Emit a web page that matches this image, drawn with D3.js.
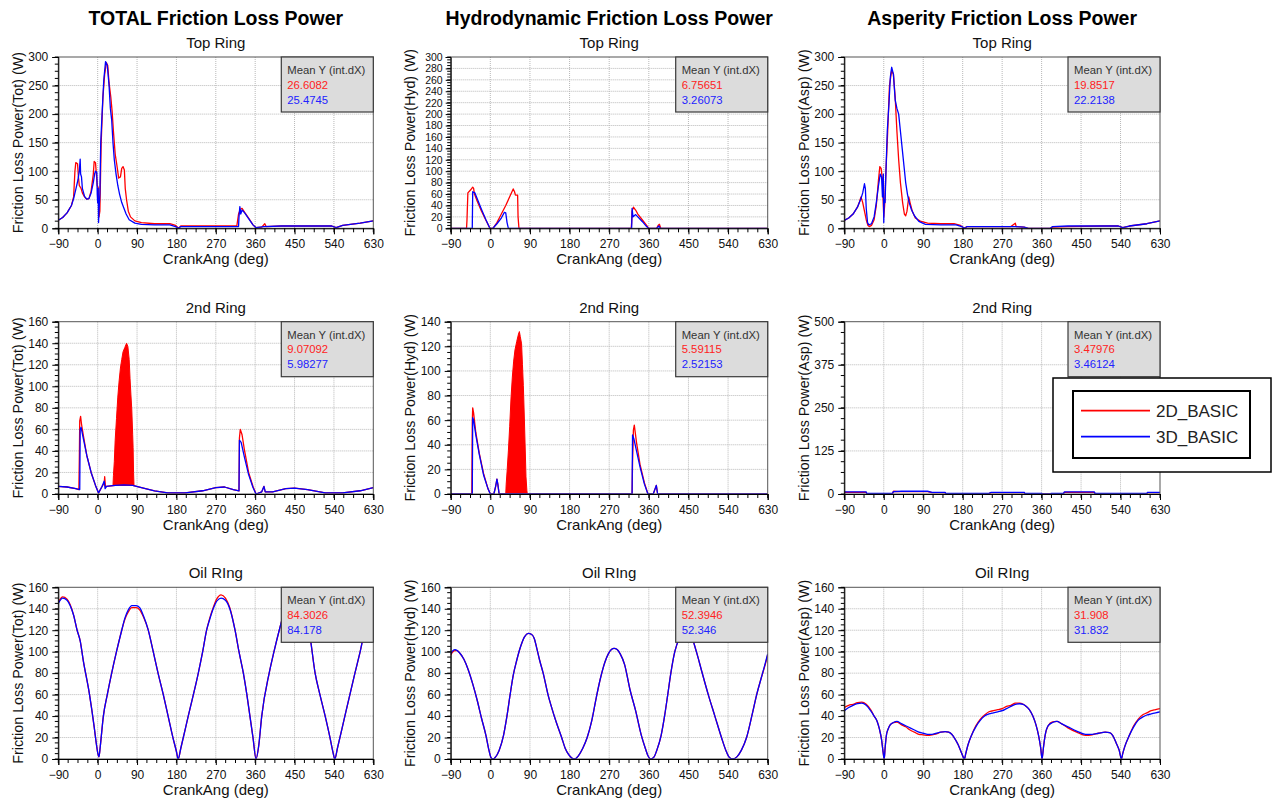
<!DOCTYPE html>
<html><head><meta charset="utf-8">
<script src="https://cdn.jsdelivr.net/npm/d3@7"></script>
<style>
html,body{margin:0;padding:0;background:#fff;}
svg{display:block;font-family:"Liberation Sans",Arial,Helvetica,sans-serif;}
</style></head>
<body>
<svg id="chart" width="1277" height="801"></svg>
<script>
// ---------------- DATA ----------------
const xTickValues = [-90, 0, 90, 180, 270, 360, 450, 540, 630];
const columnTitles = ["TOTAL Friction Loss Power", "Hydrodynamic Friction Loss Power", "Asperity Friction Loss Power"];
const rowTitles = ["Top Ring", "2nd Ring", "Oil RIng"];
const yAxisLabels = ["Friction Loss Power(Tot) (W)", "Friction Loss Power(Hyd) (W)", "Friction Loss Power(Asp) (W)"];
const xAxisLabel = "CrankAng (deg)";
const yMaxValues = [[300, 300, 300], [160, 140, 500], [160, 160, 160]];
const yStepValues = [[50, 20, 50], [20, 20, 125], [20, 20, 20]];
const statsHeader = "Mean Y (int.dX)";
const meanRed = [["26.6082", "6.75651", "19.8517"], ["9.07092", "5.59115", "3.47976"], ["84.3026", "52.3946", "31.908"]];
const meanBlue = [["25.4745", "3.26073", "22.2138"], ["5.98277", "2.52153", "3.46124"], ["84.178", "52.346", "31.832"]];
const seriesNames = ["2D_BASIC", "3D_BASIC"];

// Top ring – total
const totTopRed = [[-90,14],[-80,19],[-70,27],[-60,40],[-55,55],[-52,100],[-50,115],[-46,113],[-44,90],[-42,75],[-38,70],[-35,62],[-30,55],[-25,51],[-20,52],[-15,65],[-10,95],[-8,117],[-5,115],[-3,95],[-1,75],[1,72],[3,20],[5,30],[8,150],[12,230],[16,270],[20,290],[23,285],[26,255],[30,230],[33,205],[36,170],[40,130],[44,110],[48,88],[52,90],[55,105],[58,108],[61,102],[63,70],[66,50],[70,30],[75,20],[85,13],[100,10],[130,8],[165,8],[178,5],[185,0],[190,4],[250,4],[300,4],[318,4],[322,25],[326,33],[330,35],[336,28],[345,18],[355,6],[362,1],[375,2],[382,8],[385,3],[420,4],[500,4],[535,4],[545,1],[560,5],[600,9],[630,13]];
const totTopBlue = [[-90,14],[-80,19],[-70,27],[-60,40],[-55,52],[-50,68],[-45,85],[-42,100],[-40,121],[-39,95],[-37,90],[-35,70],[-30,56],[-25,51],[-20,52],[-15,62],[-10,80],[-7,95],[-5,100],[-2,98],[-1,60],[0,45],[1,70],[2,10],[3,30],[5,60],[7,150],[10,200],[14,260],[18,292],[22,285],[26,250],[29,210],[32,190],[35,150],[38,120],[42,95],[46,75],[50,60],[55,45],[60,35],[65,25],[72,15],[85,9],[100,7],[130,6],[165,6],[178,3],[185,0],[190,3],[300,3],[322,3],[323,20],[325,38],[327,25],[330,32],[336,27],[345,17],[355,6],[362,1],[380,3],[420,4],[500,4],[535,4],[545,1],[560,5],[600,9],[630,13]];
// Top ring – hydrodynamic
const hydTopRed = [[-90,0],[-54,0],[-53,15],[-51,62],[-45,67],[-40,72],[-38,70],[-36,60],[-30,48],[-20,30],[-10,14],[-1,0],[6,0],[15,10],[25,25],[35,40],[45,57],[52,69],[55,64],[57,58],[62,58],[63,20],[65,0],[320,0],[321,10],[322,30],[325,37],[330,32],[335,25],[345,15],[355,5],[360,0],[378,0],[381,5],[384,7],[387,0],[630,0]];
const hydTopBlue = [[-90,0],[-41,0],[-40,64],[-35,62],[-30,52],[-20,33],[-10,15],[-1,0],[6,0],[15,8],[25,18],[32,28],[35,27],[38,10],[41,0],[321,0],[322,35],[324,20],[327,22],[330,24],[335,20],[345,12],[355,3],[359,0],[378,0],[383,4],[386,0],[630,0]];
// Top ring – asperity
const aspTopRed = [[-90,14],[-80,18],[-70,25],[-60,37],[-55,47],[-52,55],[-48,45],[-44,30],[-40,15],[-36,5],[-33,3],[-28,5],[-22,15],[-17,40],[-12,85],[-9,108],[-6,105],[-3,85],[-1,40],[0,20],[2,40],[5,100],[9,170],[13,250],[18,276],[22,270],[26,230],[30,170],[34,120],[38,80],[43,45],[47,25],[50,22],[53,30],[57,55],[60,45],[65,30],[72,18],[85,12],[100,9],[130,8],[160,8],[175,5],[183,0],[190,3],[290,3],[300,9],[302,3],[320,2],[330,0],[380,0],[385,2],[420,3],[500,4],[535,4],[545,1],[560,4],[600,8],[630,13]];
const aspTopBlue = [[-90,14],[-80,18],[-70,25],[-60,37],[-52,52],[-48,62],[-44,78],[-42,70],[-40,35],[-37,10],[-34,6],[-28,8],[-22,20],[-17,45],[-12,75],[-8,95],[-5,90],[-3,55],[-1,95],[0,10],[1,50],[3,45],[5,100],[8,170],[12,220],[15,265],[18,282],[22,270],[26,225],[30,210],[34,200],[38,170],[42,140],[46,110],[50,80],[54,60],[58,45],[63,33],[70,22],[80,12],[95,7],[130,6],[165,6],[178,3],[185,0],[190,3],[300,3],[320,2],[330,0],[380,0],[385,3],[420,4],[500,4],[535,4],[545,1],[560,4],[600,8],[630,13]];
// 2nd ring – total
const tot2ndRed = [[-90,7],[-70,6.5],[-50,5],[-43,4],[-42,30],[-41,68],[-39,72],[-37,65],[-33,55],[-25,36],[-15,20],[-5,8],[2,1],[10,7],[15,10],[16,16],[18,6],[20,7],[40,8],[60,8.5],[80,8],[100,6],[130,3],[160,1],[200,1],[240,3],[270,6],[290,6.5],[310,4],[323,3],[324,52],[326,60],[330,55],[335,42],[345,20],[355,7],[362,0],[375,2],[380,7],[383,2],[400,2],[430,5],[450,5.5],[480,4],[520,1],[560,1],[600,3],[630,6]];
const tot2ndBlue = [[-90,7],[-70,6.5],[-50,5],[-41,4],[-40,60],[-38,62],[-33,52],[-25,36],[-15,20],[-5,8],[2,1],[10,7],[15,12],[17,5],[20,7],[40,8],[60,8.5],[80,8],[100,6],[130,3],[160,1],[200,1],[240,3],[270,6],[290,6.5],[310,4],[323,3],[324,50],[328,48],[335,35],[345,18],[355,6],[362,0],[375,2],[380,7],[383,2],[400,2],[430,5],[450,5.5],[480,4],[520,1],[560,1],[600,3],[630,6]];
const tot2ndRedBand = [[35,8],[36,17],[38,30],[40,50],[43,70],[46,90],[49,105],[52,117],[55,125],[58,132],[62,136],[66,140],[69,137],[72,125],[74,107],[76,92],[78,78],[80,55],[81,43],[82,20],[83,8]];
// 2nd ring – hydrodynamic
const hyd2ndRed = [[-90,0],[-42,0],[-41,58],[-40,70],[-38,66],[-33,50],[-25,33],[-15,16],[-5,4],[0,0],[8,0],[12,6],[15,12],[17,8],[20,0],[322,0],[323,25],[325,52],[327,56],[332,42],[340,24],[350,9],[358,0],[370,0],[375,5],[377,7],[380,0],[630,0]];
const hyd2ndBlue = [[-90,0],[-41,0],[-40,62],[-38,60],[-33,48],[-25,32],[-15,15],[-5,4],[0,0],[8,0],[12,6],[15,12],[17,8],[20,0],[322,0],[323,48],[326,45],[332,35],[340,22],[350,8],[358,0],[370,0],[375,5],[377,7],[380,0],[630,0]];
const hyd2ndRedBand = [[35,0],[36,8],[38,18],[41,35],[44,55],[47,78],[50,95],[53,108],[56,117],[60,124],[64,130],[66,132],[68,128],[71,122],[73,105],[75,88],[77,65],[79,40],[81,14],[83,3],[84,0]];
// 2nd ring – asperity
const asp2ndRed = [[-90,5],[-40,5],[-39,1],[20,1],[22,8],[35,7],[100,7],[110,4],[140,4],[141,1],[240,1],[245,4],[320,4],[322,1],[360,1],[362,0],[380,0],[382,1],[410,1],[412,5],[480,5],[482,1],[600,1],[602,4],[630,4]];
const asp2ndBlue = [[-90,6],[-40,6],[-39,2],[20,2],[22,7],[40,8],[100,8],[110,5],[140,5],[141,2],[240,2],[245,5],[320,5],[322,2],[360,2],[362,0],[380,0],[382,2],[410,2],[412,6],[480,6],[482,2],[600,2],[602,5],[630,5]];
// Oil ring – total
const totOilRed = [[-90,146],[-80,151],[-70,149],[-63,144],[-55,134],[-47,120],[-40,110],[-33,92],[-19,61],[-8,30],[-3,14],[0,6],[3,2],[6,12],[13,40],[22,60],[32,80],[43,100],[55,120],[62,130],[70,137],[78,141],[88,141],[96,139],[105,132],[115,121],[127,100],[138,80],[150,60],[161,40],[172,20],[180,7],[184,0],[190,10],[207,40],[230,80],[240,100],[249,120],[256,131],[264,141],[272,149],[282,153],[292,150],[302,141],[314,120],[323,100],[333,80],[341,60],[348,40],[355,20],[362,0],[368,12],[375,40],[392,80],[403,100],[415,120],[425,135],[440,148],[455,150],[470,140],[485,115],[497,80],[508,60],[520,40],[531,20],[538,6],[542,0],[548,10],[565,40],[588,80],[600,100],[611,120],[620,128],[630,136]];
const totOilBlue = [[-90,145],[-80,150],[-70,148],[-63,143],[-55,134],[-47,120],[-40,110],[-33,92],[-19,61],[-8,30],[-3,14],[0,6],[3,2],[6,12],[13,40],[22,60],[32,80],[43,100],[55,120],[62,131],[70,139],[78,143],[88,143],[96,141],[105,133],[115,121],[127,100],[138,80],[150,60],[161,40],[172,20],[180,7],[184,0],[190,10],[207,40],[230,80],[240,100],[249,120],[256,130],[264,140],[272,147],[282,150],[292,148],[302,140],[314,120],[323,100],[333,80],[341,60],[348,40],[355,20],[362,0],[368,12],[375,40],[392,80],[403,100],[415,120],[425,135],[440,148],[455,150],[470,140],[485,115],[497,80],[508,60],[520,40],[531,20],[538,6],[542,0],[548,10],[565,40],[588,80],[600,100],[611,120],[620,128],[630,136]];
// Oil ring – hydrodynamic
const hydOilRed = [[-90,97],[-85,100],[-80,101],[-75,101],[-70,99],[-60,93],[-50,83],[-40,70],[-30,55],[-20,38],[-10,22],[-3,8],[2,1],[6,0],[10,1],[20,8],[30,22],[37,38],[45,60],[52,78],[60,92],[69,105],[78,114],[86,117],[94,116],[100,112],[105,104],[112,92],[120,80],[131,60],[140,47],[150,34],[162,20],[170,10],[178,4],[185,1],[192,0],[200,3],[210,10],[220,20],[230,35],[241,58],[250,75],[260,90],[268,98],[275,102],[281,103],[288,102],[295,98],[305,88],[317,65],[330,45],[343,22],[352,10],[358,3],[364,0],[372,2],[378,8],[388,22],[395,38],[403,60],[410,80],[419,100],[430,113],[444,119],[455,116],[468,100],[480,82],[495,60],[510,40],[525,20],[535,8],[542,2],[550,0],[560,2],[570,8],[582,20],[595,42],[605,60],[615,75],[625,89],[630,97]];
const hydOilBlue = [[-90,98],[-85,101],[-80,102],[-75,101],[-70,99],[-60,93],[-50,83],[-40,70],[-30,55],[-20,38],[-10,22],[-3,8],[2,1],[6,0],[10,1],[20,8],[30,22],[37,38],[45,60],[52,78],[60,92],[69,105],[78,114],[86,117],[94,116],[100,112],[105,104],[112,92],[120,80],[131,60],[140,47],[150,34],[162,20],[170,10],[178,4],[185,1],[192,0],[200,3],[210,10],[220,20],[230,35],[241,58],[250,75],[260,90],[268,98],[275,102],[281,103],[288,102],[295,98],[305,88],[317,65],[330,45],[343,22],[352,10],[358,3],[364,0],[372,2],[378,8],[388,22],[395,38],[403,60],[410,80],[419,100],[430,113],[444,119],[455,116],[468,100],[480,82],[495,60],[510,40],[525,20],[535,8],[542,2],[550,0],[560,2],[570,8],[582,20],[595,42],[605,60],[615,75],[625,90],[630,98]];
// Oil ring – asperity
const aspOilRed = [[-90,48],[-80,50],[-70,51],[-60,52.5],[-50,53],[-40,51],[-30,46],[-22,40],[-15,35],[-10,28],[-5,18],[-2,8],[0,2],[1,0],[3,10],[6,22],[10,28],[15,32],[22,34],[30,34.5],[40,32],[50,30],[60,27],[70,25],[80,23],[90,22.5],[100,22],[110,22.5],[120,23.5],[130,25],[140,25.5],[148,25],[155,23],[162,19],[170,13],[176,7],[181,2],[184,0],[187,5],[192,13],[200,22],[210,31],[220,37],[230,41],[240,44],[250,45],[260,46],[270,47],[280,49],[290,50],[300,52],[310,52],[318,51],[325,49],[332,46],[340,40],[347,32],[353,22],[358,10],[361,0],[364,10],[368,22],[375,31],[385,34.5],[395,35],[405,33],[420,29],[440,25],[460,22],[475,22.5],[490,24],[505,25],[515,24.5],[522,22],[530,15],[537,8],[542,0],[545,5],[550,12],[560,22],[570,31],[580,37],[590,41],[600,43],[610,45],[620,46],[630,47]];
const aspOilBlue = [[-90,45],[-80,48],[-70,50],[-60,51.5],[-50,52],[-40,50],[-30,45],[-22,40],[-15,35],[-10,28],[-5,18],[-2,8],[0,2],[1,0],[3,10],[6,22],[10,28],[15,32],[22,34],[30,35],[40,33],[50,31],[60,29],[70,27],[80,25],[90,24],[100,23],[110,23],[120,24],[130,25],[140,25.5],[148,25],[155,23],[162,19],[170,13],[176,7],[181,2],[184,0],[187,5],[192,13],[200,22],[210,30],[220,36],[230,40],[240,42],[250,43],[260,44],[270,45],[280,47],[290,49],[300,51],[310,51.5],[318,51],[325,49],[332,46],[340,40],[347,32],[353,22],[358,10],[361,0],[364,10],[368,22],[375,31],[385,34],[395,35],[405,33],[420,30],[440,26],[460,23],[475,23],[490,24],[505,25],[515,24.5],[522,22],[530,15],[537,8],[542,0],[545,5],[550,12],[560,22],[570,30],[580,36],[590,39],[600,41],[610,42],[620,43],[630,44]];

const panelSeries = [
  [{red: totTopRed, blue: totTopBlue}, {red: hydTopRed, blue: hydTopBlue}, {red: aspTopRed, blue: aspTopBlue}],
  [{red: tot2ndRed, blue: tot2ndBlue, band: tot2ndRedBand, bandBase: 8}, {red: hyd2ndRed, blue: hyd2ndBlue, band: hyd2ndRedBand, bandBase: 0}, {red: asp2ndRed, blue: asp2ndBlue}],
  [{red: totOilRed, blue: totOilBlue, smooth: true}, {red: hydOilRed, blue: hydOilBlue, smooth: true}, {red: aspOilRed, blue: aspOilBlue, smooth: true}]
];

// ---------------- LAYOUT ----------------
const colX = [[58.3, 373.3], [450.7, 767.7], [844.3, 1160]];
const rowY = [[57, 228.3], [321.7, 494], [587.3, 759]];
const RED = "#ff0000", BLUE = "#0000ff";

const svg = d3.select("#chart");
const defs = svg.append("defs");

for (let r = 0; r < 3; r++) {
  for (let c = 0; c < 3; c++) {
    const [x0, x1] = colX[c];
    const [y0, y1] = rowY[r];
    const xs = d3.scaleLinear().domain([-90, 630]).range([x0, x1]);
    const ys = d3.scaleLinear().domain([0, yMaxValues[r][c]]).range([y1, y0]);
    const step = yStepValues[r][c];
    const yMajor = d3.range(0, yMaxValues[r][c] + 0.001, step);
    const yMinor = d3.range(0, yMaxValues[r][c] + 0.001, step / 4);
    const xMinor = d3.range(-90, 630.001, 22.5);
    const dense = yMajor.length > 10;
    const g = svg.append("g");
    const cx = (x0 + x1) / 2;

    // titles
    if (r === 0) {
      g.append("text").attr("x", cx).attr("y", 25).attr("text-anchor", "middle")
        .attr("font-size", 19.5).attr("font-weight", "bold").attr("fill", "#000").text(columnTitles[c]);
    }
    g.append("text").attr("x", cx).attr("y", y0 - 9).attr("text-anchor", "middle")
      .attr("font-size", 15).attr("fill", "#111").text(rowTitles[r]);

    // plot background
    g.append("rect").attr("x", x0).attr("y", y0).attr("width", x1 - x0).attr("height", y1 - y0).attr("fill", "#fff");

    // grid
    g.append("g").selectAll("line").data(xTickValues.slice(1, -1)).join("line")
      .attr("x1", d => xs(d)).attr("x2", d => xs(d)).attr("y1", y0).attr("y2", y1)
      .attr("stroke", "#b8b8b8").attr("stroke-dasharray", "1,1").attr("stroke-width", 1);
    g.append("g").selectAll("line").data(yMajor.slice(1, -1)).join("line")
      .attr("x1", x0).attr("x2", x1).attr("y1", d => ys(d)).attr("y2", d => ys(d))
      .attr("stroke", "#b8b8b8").attr("stroke-dasharray", "1,1").attr("stroke-width", 1);

    // clip
    const clipId = `clip-${r}-${c}`;
    defs.append("clipPath").attr("id", clipId).append("rect")
      .attr("x", x0).attr("y", y0 - 1).attr("width", x1 - x0).attr("height", y1 - y0 + 2);
    const plot = g.append("g").attr("clip-path", `url(#${clipId})`);

    const s = panelSeries[r][c];
    const line = d3.line().x(d => xs(d[0])).y(d => ys(d[1]))
      .curve(s.smooth ? d3.curveMonotoneX : d3.curveLinear);
    if (s.band) {
      const area = d3.area().x(d => xs(d[0])).y0(ys(s.bandBase)).y1(d => ys(d[1]));
      plot.append("path").datum(s.band).attr("d", area).attr("fill", RED).attr("stroke", RED).attr("stroke-width", 1);
    }
    plot.append("path").datum(s.red).attr("d", line).attr("fill", "none").attr("stroke", RED).attr("stroke-width", 1.3).attr("stroke-linejoin", "round");
    plot.append("path").datum(s.blue).attr("d", line).attr("fill", "none").attr("stroke", BLUE).attr("stroke-width", 1.3).attr("stroke-linejoin", "round");

    // frame
    g.append("rect").attr("x", x0).attr("y", y0).attr("width", x1 - x0).attr("height", y1 - y0)
      .attr("fill", "none").attr("stroke", "#555").attr("stroke-width", 1);

    // axes
    const xAxis = d3.axisBottom(xs).tickValues(xTickValues).tickSize(6).tickPadding(5);
    const xg = g.append("g").attr("transform", `translate(0,${y1})`).call(xAxis);
    xg.append("g").selectAll("line").data(xMinor).join("line")
      .attr("x1", d => xs(d)).attr("x2", d => xs(d)).attr("y1", 0).attr("y2", 4).attr("stroke", "#000");
    const yAxis = d3.axisLeft(ys).tickValues(yMajor).tickSize(dense ? 5 : 6).tickPadding(dense ? 3 : 4);
    const yg = g.append("g").attr("transform", `translate(${x0},0)`).call(yAxis);
    yg.append("g").selectAll("line").data(yMinor).join("line")
      .attr("x1", 0).attr("x2", -3.5).attr("y1", d => ys(d)).attr("y2", d => ys(d)).attr("stroke", "#000");
    xg.selectAll("text").attr("font-size", 12);
    yg.selectAll("text").attr("font-size", dense ? 10.5 : 12);
    [xg, yg].forEach(a => {
      a.selectAll("text").attr("fill", "#111").attr("font-family", "Liberation Sans, Arial, sans-serif");
      a.selectAll("path.domain").attr("stroke", "#000");
      a.selectAll(".tick line").attr("stroke", "#000");
    });

    // axis labels
    g.append("text").attr("x", cx).attr("y", y1 + 36).attr("text-anchor", "middle")
      .attr("font-size", 15).attr("fill", "#111").text(xAxisLabel);
    g.append("text").attr("transform", `translate(${x0 - 39},${(y0 + y1) / 2}) rotate(-90)`)
      .attr("text-anchor", "middle").attr("dominant-baseline", "middle")
      .attr("font-size", 14.3).attr("fill", "#111").text(yAxisLabels[c]);

    // stats box
    const bx1 = x1, bx0 = x1 - 92, by0 = y0, by1 = y0 + 55;
    g.append("rect").attr("x", bx0).attr("y", by0).attr("width", bx1 - bx0).attr("height", by1 - by0)
      .attr("fill", "#dcdcdc").attr("stroke", "#3a3a3a").attr("stroke-width", 1.2);
    g.append("text").attr("x", bx0 + 6).attr("y", by0 + 17).attr("font-size", 11.3).attr("fill", "#333").text(statsHeader);
    g.append("text").attr("x", bx0 + 6).attr("y", by0 + 31.5).attr("font-size", 11.3).attr("fill", "#ff2222").text(meanRed[r][c]);
    g.append("text").attr("x", bx0 + 6).attr("y", by0 + 46.5).attr("font-size", 11.3).attr("fill", "#2222ff").text(meanBlue[r][c]);
  }
}

// legend
const lg = svg.append("g");
lg.append("rect").attr("x", 1053).attr("y", 378).attr("width", 218).attr("height", 94)
  .attr("fill", "#fff").attr("stroke", "#000").attr("stroke-width", 1.5);
lg.append("rect").attr("x", 1073).attr("y", 391).attr("width", 177).attr("height", 67)
  .attr("fill", "#fff").attr("stroke", "#000").attr("stroke-width", 2);
const legendColors = [RED, BLUE];
seriesNames.forEach((name, i) => {
  const yy = 410.7 + i * 26;
  lg.append("line").attr("x1", 1081).attr("x2", 1150).attr("y1", yy).attr("y2", yy)
    .attr("stroke", legendColors[i]).attr("stroke-width", 1.8);
  lg.append("text").attr("x", 1156).attr("y", yy + 6).attr("font-size", 17).attr("fill", "#222").text(name);
});
</script>
</body></html>
